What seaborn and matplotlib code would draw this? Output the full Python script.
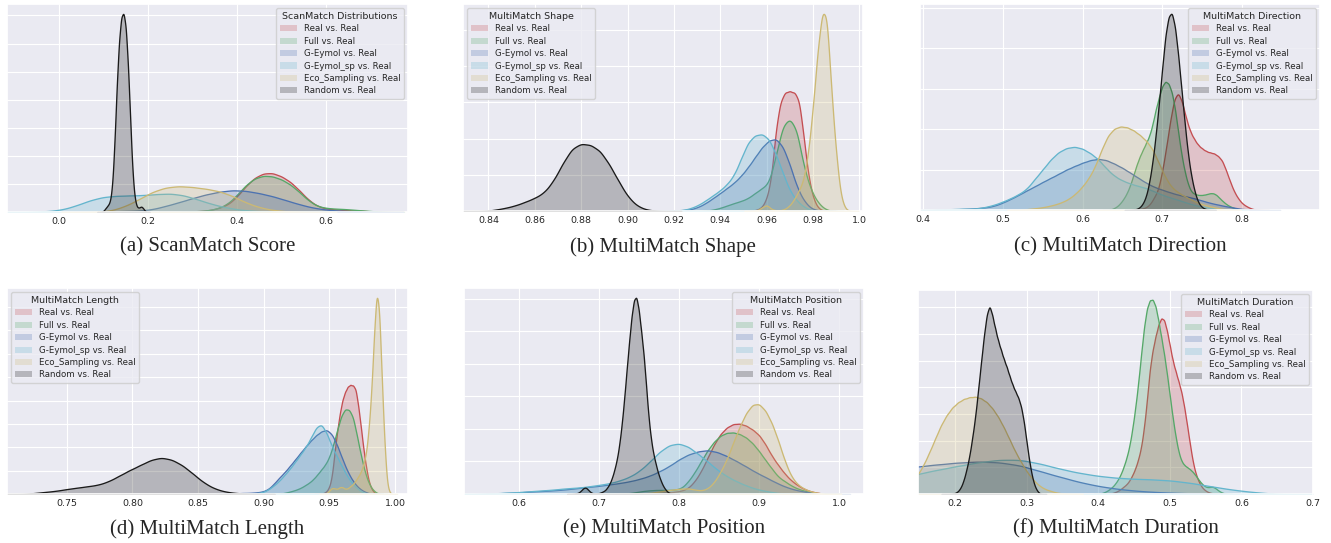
import numpy as np
import pandas as pd
import seaborn as sns
import matplotlib.pyplot as plt
from matplotlib.colors import to_rgba
from matplotlib.patches import Patch
from matplotlib.ticker import MultipleLocator

# curves: x positions and curve heights (pixels above baseline)
labels = ['Real vs. Real', 'Full vs. Real', 'G-Eymol vs. Real', 'G-Eymol_sp vs. Real',
          'Eco_Sampling vs. Real', 'Random vs. Real']
colors = ['#C44E52', '#55A868', '#4C72B0', '#64B5CD', '#CCB974', '#1A1A1A']

# (a) ScanMatch
sm_real_x = [0.26, 0.28, 0.30, 0.32, 0.34, 0.36, 0.38, 0.40, 0.42, 0.44, 0.46, 0.48, 0.50,
             0.52, 0.54, 0.56, 0.58, 0.60, 0.62, 0.64, 0.66, 0.68, 0.70, 0.72, 0.74]
sm_real_h = [0, 1, 2, 3, 6, 12, 22, 45, 77, 102, 115, 116, 106, 90, 65, 37, 18, 10, 8, 6, 5, 4, 2, 1, 0]
sm_full_x = [0.26, 0.28, 0.30, 0.32, 0.34, 0.36, 0.38, 0.40, 0.42, 0.44, 0.46, 0.48, 0.50,
             0.52, 0.54, 0.56, 0.58, 0.60, 0.62, 0.64, 0.66, 0.68, 0.70, 0.72, 0.74]
sm_full_h = [0, 1, 2, 3, 6, 12, 25, 50, 80, 100, 108, 106, 97, 82, 60, 35, 18, 12, 10, 9, 7, 5, 3, 1, 0]
sm_geym_x = [0.06, 0.09, 0.12, 0.15, 0.18, 0.21, 0.24, 0.27, 0.30, 0.33, 0.36, 0.39, 0.42,
             0.45, 0.48, 0.51, 0.54, 0.57, 0.60, 0.63, 0.66, 0.69, 0.72]
sm_geym_h = [0, 1, 2, 3, 4, 8, 18, 29, 41, 52, 60, 65, 63, 56, 47, 35, 23, 13, 7, 4, 2, 1, 0]
sm_geymsp_x = [-0.08, -0.05, -0.02, 0.01, 0.04, 0.07, 0.10, 0.13, 0.16, 0.19, 0.22, 0.25,
               0.28, 0.31, 0.34, 0.37, 0.40, 0.43, 0.46, 0.49, 0.52, 0.55]
sm_geymsp_h = [0, 1, 3, 8, 20, 35, 45, 48, 49, 50, 53, 55, 50, 38, 25, 15, 8, 4, 2, 1, 0.5, 0]
sm_eco_x = [0.06, 0.09, 0.12, 0.15, 0.18, 0.21, 0.24, 0.27, 0.30, 0.33, 0.36, 0.39, 0.42,
            0.45, 0.48, 0.51, 0.54, 0.57]
sm_eco_h = [0, 1, 5, 18, 38, 60, 73, 77, 74, 69, 62, 48, 28, 14, 6, 2, 1, 0]
sm_rand_x = [0.095, 0.100, 0.105, 0.110, 0.115, 0.120, 0.125, 0.130, 0.135, 0.140, 0.145,
             0.150, 0.155, 0.160, 0.165, 0.170, 0.175, 0.180, 0.185, 0.190, 0.195]
sm_rand_h = [0, 3, 12, 20, 30, 80, 210, 380, 510, 580, 593, 555, 440, 280, 120, 40, 14, 12, 18, 10, 0]

# (b) MultiMatch Shape
shp_real_x = [0.952, 0.954, 0.956, 0.958, 0.960, 0.962, 0.964, 0.966, 0.968, 0.970, 0.972,
              0.974, 0.976, 0.978, 0.980, 0.982, 0.984, 0.986]
shp_real_h = [0, 1, 4, 11, 35, 92, 240, 320, 345, 347, 344, 325, 215, 100, 38, 10, 2, 0]
shp_full_x = [0.931, 0.934, 0.937, 0.940, 0.943, 0.946, 0.949, 0.952, 0.955, 0.958, 0.961,
              0.964, 0.967, 0.970, 0.973, 0.976, 0.979, 0.982, 0.985, 0.988]
shp_full_h = [0, 1, 4, 9, 16, 23, 29, 37, 52, 66, 80, 160, 250, 270, 238, 128, 62, 25, 6, 0]
shp_geym_x = [0.916, 0.919, 0.922, 0.925, 0.928, 0.931, 0.934, 0.937, 0.940, 0.943, 0.946,
              0.949, 0.952, 0.955, 0.958, 0.961, 0.964, 0.967, 0.970, 0.973, 0.976, 0.979,
              0.982, 0.985]
shp_geym_h = [0, 1, 2, 3, 6, 13, 24, 38, 52, 67, 82, 102, 127, 156, 185, 205, 211, 188, 135,
              70, 30, 8, 2, 0]
shp_geymsp_x = [0.916, 0.919, 0.922, 0.925, 0.928, 0.931, 0.934, 0.937, 0.940, 0.943, 0.946,
                0.949, 0.952, 0.955, 0.958, 0.961, 0.964, 0.967, 0.970, 0.973, 0.976, 0.979,
                0.982]
shp_geymsp_h = [0, 1, 2, 4, 10, 19, 32, 46, 60, 78, 104, 152, 200, 220, 224, 210, 165, 110,
                58, 30, 12, 3, 0]
shp_eco_x = [0.954, 0.956, 0.958, 0.960, 0.962, 0.964, 0.966, 0.968, 0.970, 0.972, 0.974,
             0.976, 0.978, 0.980, 0.982, 0.984, 0.986, 0.988, 0.990, 0.992, 0.994, 0.996]
shp_eco_h = [0, 2, 10, 20, 5, 2, 2, 6, 16, 35, 60, 90, 170, 300, 465, 585, 575, 340, 165, 40, 5, 0]
shp_rand_x = [0.836, 0.840, 0.844, 0.848, 0.852, 0.856, 0.860, 0.864, 0.868, 0.872, 0.876,
              0.880, 0.884, 0.888, 0.892, 0.896, 0.900, 0.904, 0.908, 0.912, 0.916]
shp_rand_h = [0, 1, 5, 10, 17, 27, 38, 53, 87, 138, 182, 196, 192, 176, 137, 88, 42, 15, 4, 1, 0]

# (c) MultiMatch Direction
dir_real_x = [0.665, 0.670, 0.675, 0.680, 0.685, 0.690, 0.695, 0.700, 0.705, 0.710, 0.715,
              0.720, 0.725, 0.730, 0.735, 0.740, 0.745, 0.750, 0.755, 0.760, 0.765, 0.770,
              0.775, 0.780, 0.785, 0.790, 0.795, 0.800, 0.805, 0.810, 0.815, 0.820, 0.825]
dir_real_h = [0, 2, 4, 8, 18, 38, 60, 115, 185, 265, 330, 350, 320, 270, 232, 210, 192, 182,
              174, 170, 168, 160, 148, 118, 85, 55, 35, 20, 12, 6, 2, 1, 0]
dir_full_x = [0.632, 0.636, 0.640, 0.644, 0.648, 0.652, 0.656, 0.660, 0.664, 0.668, 0.672,
              0.676, 0.680, 0.684, 0.688, 0.692, 0.696, 0.700, 0.704, 0.708, 0.712, 0.716,
              0.720, 0.724, 0.728, 0.732, 0.736, 0.740, 0.744, 0.748, 0.752, 0.756, 0.760,
              0.764, 0.768, 0.772, 0.776, 0.780, 0.784, 0.788, 0.792, 0.796, 0.800, 0.804]
dir_full_h = [0, 2, 6, 12, 22, 35, 52, 75, 105, 135, 160, 180, 200, 220, 255, 300, 335, 368,
              382, 375, 350, 300, 230, 165, 115, 78, 55, 48, 45, 44, 45, 47, 50, 50, 45, 35,
              26, 18, 12, 8, 4, 2, 1, 0]
dir_geym_x = [0.41, 0.42, 0.43, 0.44, 0.45, 0.46, 0.47, 0.48, 0.49, 0.50, 0.51, 0.52, 0.53,
              0.54, 0.55, 0.56, 0.57, 0.58, 0.59, 0.60, 0.61, 0.62, 0.63, 0.64, 0.65, 0.66,
              0.67, 0.68, 0.69, 0.70, 0.71, 0.72, 0.73, 0.74, 0.75, 0.76, 0.77, 0.78, 0.79,
              0.80, 0.81, 0.82, 0.83]
dir_geym_h = [0, 1, 1, 2, 3, 4, 6, 8, 13, 22, 33, 45, 58, 70, 83, 95, 107, 120, 130, 140, 148,
              152, 148, 137, 125, 110, 95, 80, 68, 60, 52, 45, 40, 35, 28, 21, 16, 11, 7, 3,
              1, 0.5, 0]
dir_geymsp_x = [0.41, 0.42, 0.43, 0.44, 0.45, 0.46, 0.47, 0.48, 0.49, 0.50, 0.51, 0.52, 0.53,
                0.54, 0.55, 0.56, 0.57, 0.58, 0.59, 0.60, 0.61, 0.62, 0.63, 0.64, 0.65, 0.66,
                0.67, 0.68, 0.69, 0.70, 0.71, 0.72, 0.73, 0.74, 0.75, 0.76, 0.77, 0.78, 0.79]
dir_geymsp_h = [0, 1, 2, 3, 4, 4, 5, 10, 16, 25, 35, 47, 62, 92, 120, 150, 172, 184, 188, 182,
                168, 150, 122, 100, 87, 78, 71, 65, 55, 45, 37, 30, 22, 15, 10, 6, 3, 1, 0]
dir_eco_x = [0.520, 0.528, 0.536, 0.544, 0.552, 0.560, 0.568, 0.576, 0.584, 0.592, 0.600,
             0.608, 0.616, 0.624, 0.632, 0.640, 0.648, 0.656, 0.664, 0.672, 0.680, 0.688,
             0.696, 0.704, 0.712, 0.720, 0.728, 0.736, 0.744, 0.752, 0.760, 0.768, 0.776, 0.784]
dir_eco_h = [0, 2, 4, 6, 9, 13, 18, 25, 35, 50, 70, 95, 130, 180, 222, 242, 248, 245, 236, 222,
             205, 180, 137, 95, 66, 52, 41, 31, 22, 16, 11, 7, 3, 0]
dir_rand_x = [0.660, 0.664, 0.668, 0.672, 0.676, 0.680, 0.684, 0.688, 0.692, 0.696, 0.700,
              0.704, 0.708, 0.712, 0.716, 0.720, 0.724, 0.728, 0.732, 0.736, 0.740, 0.744,
              0.748, 0.752, 0.756, 0.760]
dir_rand_h = [0, 1, 3, 8, 20, 42, 85, 145, 225, 320, 420, 520, 575, 588, 545, 460, 360, 260,
              170, 105, 60, 28, 12, 5, 2, 0]

# (d) MultiMatch Length
len_real_x = [0.942, 0.944, 0.946, 0.948, 0.950, 0.952, 0.954, 0.956, 0.958, 0.960, 0.962,
              0.964, 0.966, 0.968, 0.970, 0.972, 0.974, 0.976, 0.978, 0.980, 0.982, 0.984, 0.986]
len_real_h = [0, 1, 3, 8, 20, 50, 120, 180, 230, 268, 290, 305, 310, 308, 300, 250, 190, 125,
              75, 35, 15, 5, 0]
len_full_x = [0.911, 0.914, 0.917, 0.920, 0.923, 0.926, 0.929, 0.932, 0.935, 0.938, 0.941,
              0.944, 0.947, 0.950, 0.953, 0.956, 0.959, 0.962, 0.965, 0.968, 0.971, 0.974,
              0.977, 0.980, 0.983, 0.986, 0.989]
len_full_h = [0, 2, 4, 7, 10, 14, 19, 26, 33, 43, 56, 70, 84, 105, 140, 182, 222, 242, 240, 220,
              165, 110, 62, 30, 12, 3, 0]
len_geym_x = [0.864, 0.868, 0.872, 0.876, 0.880, 0.884, 0.888, 0.892, 0.896, 0.900, 0.904,
              0.908, 0.912, 0.916, 0.920, 0.924, 0.928, 0.932, 0.936, 0.940, 0.944, 0.948,
              0.952, 0.956, 0.960, 0.964, 0.968, 0.972, 0.976, 0.980, 0.984]
len_geym_h = [0, 1, 1, 2, 2, 3, 3, 4, 5, 8, 15, 30, 47, 62, 80, 98, 117, 135, 152, 167, 178,
              183, 170, 138, 98, 62, 36, 18, 8, 2, 0]
len_geymsp_x = [0.888, 0.892, 0.896, 0.900, 0.904, 0.908, 0.912, 0.916, 0.920, 0.924, 0.928,
                0.932, 0.936, 0.940, 0.944, 0.948, 0.952, 0.956, 0.960, 0.964, 0.968, 0.972,
                0.976, 0.980, 0.984]
len_geymsp_h = [0, 1, 3, 6, 14, 25, 38, 55, 72, 92, 112, 133, 160, 190, 200, 172, 135, 105, 75,
                48, 28, 13, 4, 1, 0]
len_eco_x = [0.946, 0.948, 0.950, 0.952, 0.954, 0.956, 0.958, 0.960, 0.962, 0.964, 0.966,
             0.968, 0.970, 0.972, 0.974, 0.976, 0.978, 0.980, 0.982, 0.984, 0.986, 0.988,
             0.990, 0.992, 0.994, 0.996, 0.998]
len_eco_h = [0, 2, 10, 18, 16, 14, 20, 20, 14, 16, 22, 28, 38, 50, 62, 85, 115, 185, 290, 450,
             585, 530, 320, 140, 25, 3, 0]
len_rand_x = [0.718, 0.726, 0.734, 0.742, 0.750, 0.758, 0.766, 0.774, 0.782, 0.790, 0.798,
              0.806, 0.814, 0.822, 0.830, 0.838, 0.846, 0.854, 0.862, 0.870, 0.878, 0.886, 0.894]
len_rand_h = [0, 3, 6, 9, 14, 18, 22, 26, 36, 52, 68, 82, 97, 104, 98, 82, 58, 33, 16, 7, 3, 1, 0]

# (e) MultiMatch Position
pos_real_x = [0.748, 0.756, 0.764, 0.772, 0.780, 0.788, 0.796, 0.804, 0.812, 0.820, 0.828,
              0.836, 0.844, 0.852, 0.860, 0.868, 0.876, 0.884, 0.892, 0.900, 0.908, 0.916,
              0.924, 0.932, 0.940, 0.948, 0.956, 0.964, 0.972, 0.980, 0.988]
pos_real_h = [0, 1, 2, 3, 4, 5, 7, 10, 18, 38, 68, 108, 147, 178, 197, 207, 208, 202, 190, 175,
              147, 112, 85, 60, 40, 26, 15, 8, 4, 1, 0]
pos_full_x = [0.724, 0.732, 0.740, 0.748, 0.756, 0.764, 0.772, 0.780, 0.788, 0.796, 0.804,
              0.812, 0.820, 0.828, 0.836, 0.844, 0.852, 0.860, 0.868, 0.876, 0.884, 0.892,
              0.900, 0.908, 0.916, 0.924, 0.932, 0.940, 0.948, 0.956, 0.964, 0.972, 0.980, 0.988]
pos_full_h = [0, 1, 3, 6, 9, 11, 12, 12, 12, 13, 18, 38, 65, 98, 130, 155, 173, 181, 182, 177,
              167, 150, 127, 100, 75, 50, 38, 25, 16, 10, 5, 2, 1, 0]
pos_geym_x = [0.548, 0.560, 0.572, 0.584, 0.596, 0.608, 0.620, 0.632, 0.644, 0.656, 0.668,
              0.680, 0.692, 0.704, 0.716, 0.728, 0.740, 0.752, 0.764, 0.776, 0.788, 0.800,
              0.812, 0.824, 0.836, 0.848, 0.860, 0.872, 0.884, 0.896, 0.908, 0.920, 0.932,
              0.944, 0.956, 0.968, 0.980, 0.992]
pos_geym_h = [0, 1, 2, 3, 4, 6, 8, 9, 11, 13, 16, 19, 22, 25, 29, 33, 38, 45, 54, 67, 82, 102,
              117, 126, 130, 124, 112, 97, 81, 64, 50, 35, 22, 13, 7, 3, 1, 0]
pos_geymsp_x = [0.548, 0.560, 0.572, 0.584, 0.596, 0.608, 0.620, 0.632, 0.644, 0.656, 0.668,
                0.680, 0.692, 0.704, 0.716, 0.728, 0.740, 0.752, 0.764, 0.776, 0.788, 0.800,
                0.812, 0.824, 0.836, 0.848, 0.860, 0.872, 0.884, 0.896, 0.908, 0.920, 0.932,
                0.944]
pos_geymsp_h = [0, 1, 2, 4, 5, 7, 9, 11, 13, 16, 18, 20, 24, 28, 33, 41, 52, 70, 96, 125, 145,
                150, 140, 118, 96, 71, 52, 37, 25, 15, 9, 4, 1, 0]
pos_eco_x = [0.740, 0.748, 0.756, 0.764, 0.772, 0.780, 0.788, 0.796, 0.804, 0.812, 0.820,
             0.828, 0.836, 0.844, 0.852, 0.860, 0.868, 0.876, 0.884, 0.892, 0.900, 0.908,
             0.916, 0.924, 0.932, 0.940, 0.948, 0.956, 0.964, 0.972, 0.980, 0.988]
pos_eco_h = [0, 1, 2, 3, 6, 9, 12, 14, 16, 17, 13, 10, 16, 34, 65, 103, 153, 200, 240, 265, 267,
             247, 210, 158, 98, 52, 28, 16, 8, 4, 1, 0]
pos_rand_x = [0.666, 0.669, 0.672, 0.675, 0.678, 0.681, 0.684, 0.687, 0.690, 0.693, 0.696,
              0.699, 0.702, 0.705, 0.708, 0.711, 0.714, 0.717, 0.720, 0.723, 0.726, 0.729,
              0.732, 0.735, 0.738, 0.741, 0.744, 0.747, 0.750, 0.753, 0.756, 0.759, 0.762,
              0.765, 0.768, 0.771, 0.774, 0.777, 0.780, 0.783, 0.786, 0.789, 0.792, 0.795]
pos_rand_h = [0, 1, 2, 4, 10, 18, 20, 12, 5, 2, 1, 2, 4, 7, 11, 20, 32, 50, 75, 105, 150, 210,
              285, 370, 450, 525, 575, 585, 545, 480, 415, 325, 230, 165, 120, 90, 62, 42, 25,
              14, 6, 2, 1, 0]

# (f) MultiMatch Duration
dur_real_x = [0.412, 0.416, 0.420, 0.424, 0.428, 0.432, 0.436, 0.440, 0.444, 0.448, 0.452,
              0.456, 0.460, 0.464, 0.468, 0.472, 0.476, 0.480, 0.484, 0.488, 0.492, 0.496,
              0.500, 0.504, 0.508, 0.512, 0.516, 0.520, 0.524, 0.528, 0.532, 0.536, 0.540,
              0.544, 0.548, 0.552, 0.556, 0.560, 0.564, 0.568]
dur_real_h = [0, 1, 3, 6, 10, 16, 23, 30, 42, 58, 78, 105, 140, 200, 280, 375, 430, 470, 505,
              525, 520, 485, 440, 395, 365, 335, 305, 260, 205, 148, 95, 60, 38, 22, 13, 7, 4,
              2, 1, 0]
dur_full_x = [0.400, 0.404, 0.408, 0.412, 0.416, 0.420, 0.424, 0.428, 0.432, 0.436, 0.440,
              0.444, 0.448, 0.452, 0.456, 0.460, 0.464, 0.468, 0.472, 0.476, 0.480, 0.484,
              0.488, 0.492, 0.496, 0.500, 0.504, 0.508, 0.512, 0.516, 0.520, 0.524, 0.528,
              0.532, 0.536, 0.540, 0.544, 0.548, 0.552, 0.556, 0.560, 0.564, 0.568, 0.572,
              0.576, 0.580]
dur_full_h = [0, 2, 5, 9, 15, 22, 32, 45, 62, 85, 112, 148, 200, 262, 335, 420, 500, 555, 578,
              580, 560, 515, 465, 415, 355, 290, 225, 170, 125, 98, 86, 80, 74, 66, 55, 43, 32,
              24, 20, 21, 22, 17, 10, 5, 2, 0]
dur_geym_x = [-0.07, -0.04, -0.01, 0.02, 0.05, 0.08, 0.11, 0.14, 0.17, 0.20, 0.23, 0.26, 0.29,
              0.32, 0.35, 0.38, 0.41, 0.44, 0.47, 0.50, 0.53, 0.56, 0.59]
dur_geym_h = [0, 8, 22, 38, 52, 64, 72, 80, 87, 93, 97, 95, 86, 67, 49, 32, 20, 12, 7, 4, 2, 1, 0]
dur_geymsp_x = [0.02, 0.05, 0.08, 0.11, 0.14, 0.17, 0.20, 0.23, 0.26, 0.29, 0.32, 0.35, 0.38,
                0.41, 0.44, 0.47, 0.50, 0.53, 0.56, 0.59, 0.62, 0.65]
dur_geymsp_h = [0, 12, 28, 42, 56, 70, 82, 94, 102, 103, 90, 73, 60, 51, 46, 44, 41, 33, 22, 12,
                5, 0]
dur_eco_x = [0.100, 0.108, 0.116, 0.124, 0.132, 0.140, 0.148, 0.156, 0.164, 0.172, 0.180,
             0.188, 0.196, 0.204, 0.212, 0.220, 0.228, 0.236, 0.244, 0.252, 0.260, 0.268,
             0.276, 0.284, 0.292, 0.300, 0.308, 0.316, 0.324, 0.332, 0.340, 0.348, 0.356, 0.364]
dur_eco_h = [0, 3, 8, 16, 28, 42, 58, 88, 125, 165, 205, 235, 258, 273, 283, 288, 290, 285, 274,
             255, 230, 198, 162, 125, 95, 66, 45, 27, 16, 10, 5, 2, 1, 0]
dur_rand_x = [0.188, 0.192, 0.196, 0.200, 0.204, 0.208, 0.212, 0.216, 0.220, 0.224, 0.228,
              0.232, 0.236, 0.240, 0.244, 0.248, 0.252, 0.256, 0.260, 0.264, 0.268, 0.272,
              0.276, 0.280, 0.284, 0.288, 0.292, 0.296, 0.300, 0.304, 0.308, 0.312, 0.316, 0.320]
dur_rand_h = [0, 0, 1, 3, 8, 20, 42, 75, 115, 170, 230, 310, 390, 470, 535, 565, 530, 490, 455,
              428, 400, 378, 350, 325, 305, 288, 262, 215, 150, 90, 45, 18, 5, 0]

# axis ticks, legend titles and captions
sm_ticks = [0.0, 0.2, 0.4, 0.6]
sm_ticklabels = ['0.0', '0.2', '0.4', '0.6']
shp_ticks = [0.84, 0.86, 0.88, 0.90, 0.92, 0.94, 0.96, 0.98, 1.0]
shp_ticklabels = ['0.84', '0.86', '0.88', '0.90', '0.92', '0.94', '0.96', '0.98', '1.0']
dir_ticks = [0.4, 0.5, 0.6, 0.7, 0.8]
dir_ticklabels = ['0.4', '0.5', '0.6', '0.7', '0.8']
len_ticks = [0.75, 0.80, 0.85, 0.90, 0.95, 1.00]
len_ticklabels = ['0.75', '0.80', '0.85', '0.90', '0.95', '1.00']
pos_ticks = [0.6, 0.7, 0.8, 0.9, 1.0]
pos_ticklabels = ['0.6', '0.7', '0.8', '0.9', '1.0']
dur_ticks = [0.2, 0.3, 0.4, 0.5, 0.6, 0.7]
dur_ticklabels = ['0.2', '0.3', '0.4', '0.5', '0.6', '0.7']

legend_titles = ['ScanMatch Distributions', 'MultiMatch Shape', 'MultiMatch Direction',
                 'MultiMatch Length', 'MultiMatch Position', 'MultiMatch Duration']
captions = ['(a) ScanMatch Score', '(b) MultiMatch Shape', '(c) MultiMatch Direction',
            '(d) MultiMatch Length', '(e) MultiMatch Position', '(f) MultiMatch Duration']

W, H = 1331, 543


def grid_bw(kde):
    # kernel width tied to the spacing of the read points
    pts = np.sort(kde.dataset[0])
    step = np.diff(pts).min()
    std = np.sqrt(np.cov(kde.dataset[0], aweights=kde.weights))
    return 0.6 * step / std


def draw_panel(ax, curves, title, ticks, ticklabels, xlim, loc, grid_frac):
    frames = []
    for label, (xs, hs) in zip(labels, curves):
        xs = np.asarray(xs, dtype=float)
        step = np.diff(xs).min()
        frames.append(pd.DataFrame({'value': xs,
                                    'weight': np.asarray(hs, dtype=float) * step,
                                    'method': label}))
    df = pd.concat(frames, ignore_index=True)
    sns.kdeplot(data=df, x='value', weights='weight', hue='method',
                hue_order=labels[::-1], palette=dict(zip(labels, colors)),
                fill=True, alpha=0.25, linewidth=0.95, bw_method=grid_bw,
                common_norm=True, gridsize=300, legend=False, ax=ax)
    ax.set_xlim(xlim)
    ytop = ax.get_ylim()[1]
    ax.set_ylim(0, ytop)
    ax.yaxis.set_major_locator(MultipleLocator(grid_frac * ytop))
    ax.set_yticklabels([])
    ax.set_xticks(ticks)
    ax.set_xticklabels(ticklabels)
    ax.tick_params(axis='both', length=0)
    ax.tick_params(axis='x', labelsize=6.8, pad=3.5)
    ax.grid(linewidth=0.8)
    ax.set_xlabel('')
    ax.set_ylabel('')
    handles = [Patch(facecolor=to_rgba(c, 0.25), edgecolor='none') for c in colors]
    ax.legend(handles, labels, title=title, loc=loc, fontsize=6.2, title_fontsize=6.8,
              labelspacing=0.4, borderpad=0.4, handlelength=2.0)


def main():
    sns.set_theme(style='darkgrid')
    plt.rcParams['font.family'] = ['DejaVu Sans']

    fig = plt.figure(figsize=(W / 100, H / 100), dpi=100)

    # pixel boxes: left, top, right, bottom
    boxes = [(7, 4, 408, 212), (463, 4, 863, 211), (920, 4, 1320, 210),
             (7, 288, 408, 494), (464, 288, 864, 494), (918, 290, 1313, 494)]
    panels = [
        ([(sm_real_x, sm_real_h), (sm_full_x, sm_full_h), (sm_geym_x, sm_geym_h),
          (sm_geymsp_x, sm_geymsp_h), (sm_eco_x, sm_eco_h), (sm_rand_x, sm_rand_h)],
         sm_ticks, sm_ticklabels, (-0.117, 0.785), 'upper right', 0.135),
        ([(shp_real_x, shp_real_h), (shp_full_x, shp_full_h), (shp_geym_x, shp_geym_h),
          (shp_geymsp_x, shp_geymsp_h), (shp_eco_x, shp_eco_h), (shp_rand_x, shp_rand_h)],
         shp_ticks, shp_ticklabels, (0.829, 1.0016), 'upper left', 0.175),
        ([(dir_real_x, dir_real_h), (dir_full_x, dir_full_h), (dir_geym_x, dir_geym_h),
          (dir_geymsp_x, dir_geymsp_h), (dir_eco_x, dir_eco_h), (dir_rand_x, dir_rand_h)],
         dir_ticks, dir_ticklabels, (0.396, 0.898), 'upper right', 0.196),
        ([(len_real_x, len_real_h), (len_full_x, len_full_h), (len_geym_x, len_geym_h),
          (len_geymsp_x, len_geymsp_h), (len_eco_x, len_eco_h), (len_rand_x, len_rand_h)],
         len_ticks, len_ticklabels, (0.7045, 1.0099), 'upper left', 0.1134),
        ([(pos_real_x, pos_real_h), (pos_full_x, pos_full_h), (pos_geym_x, pos_geym_h),
          (pos_geymsp_x, pos_geymsp_h), (pos_eco_x, pos_eco_h), (pos_rand_x, pos_rand_h)],
         pos_ticks, pos_ticklabels, (0.532, 1.031), 'upper right', 0.158),
        ([(dur_real_x, dur_real_h), (dur_full_x, dur_full_h), (dur_geym_x, dur_geym_h),
          (dur_geymsp_x, dur_geymsp_h), (dur_eco_x, dur_eco_h), (dur_rand_x, dur_rand_h)],
         dur_ticks, dur_ticklabels, (0.148, 0.70), 'upper right', 0.1307),
    ]

    for i, (box, (curves, ticks, ticklabels, xlim, loc, frac)) in enumerate(zip(boxes, panels)):
        l, t, r, b = box
        ax = fig.add_axes([l / W, 1 - b / H, (r - l) / W, (b - t) / H])
        draw_panel(ax, curves, legend_titles[i], ticks, ticklabels, xlim, loc, frac)
        cap_y = 247 if i < 3 else 529
        fig.text((l + r) / 2 / W, 1 - cap_y / H, captions[i], ha='center', va='center',
                 fontsize=15, family=['Liberation Serif', 'DejaVu Serif'])

    fig.savefig('out.png', dpi=100)
    plt.close(fig)


if __name__ == '__main__':
    main()
